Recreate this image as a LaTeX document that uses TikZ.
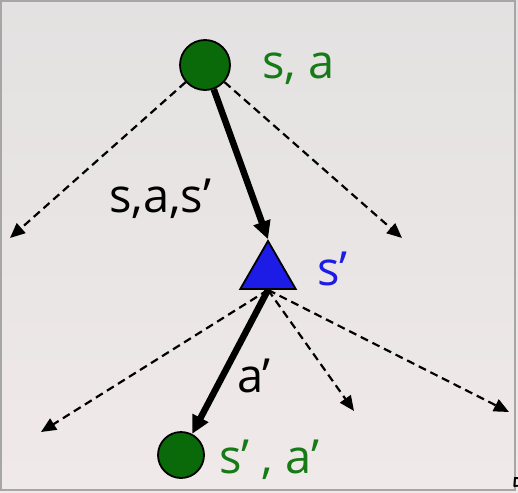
\documentclass[tikz,border=0pt]{standalone}
\usepackage{fontspec}
\setmainfont{Open Sans}
\usepackage{xcolor}
\usepackage{tikz}
\usetikzlibrary{arrows.meta,
                calc,
                positioning,
                shapes.geometric}

\definecolor{stgreen}{RGB}{10,106,10}
\definecolor{lblgreen}{RGB}{22,122,22}
\definecolor{stblue}{RGB}{28,28,230}
\definecolor{bgpink}{RGB}{240,233,233}
\definecolor{bggray}{RGB}{227,225,225}

\tikzset{
  qnode/.style={circle, draw=black, line width=1.8pt, fill=stgreen, inner sep=0pt},
  vnode/.style={regular polygon, regular polygon sides=3, draw=black,
                line width=1.8pt, fill=stblue, inner sep=0pt, minimum size=64pt},
  taken/.style={line width=6.5pt, -{Triangle[length=18pt,width=17pt]}},
  other/.style={dash pattern=on 8pt off 5pt, line width=2.2pt,
                -{Triangle[length=15pt,width=13pt]}},
  lbl/.style={anchor=base west, inner sep=0pt, font=\fontsize{47}{56}\selectfont}
}

\begin{document}
\begin{tikzpicture}[x=1pt,y=-1pt]
\useasboundingbox (0,0) rectangle (518,492);
\shade[top color=bggray, bottom color=bgpink] (0,0) rectangle (518,492);
\draw[gray!70, line width=2pt] (1,1) rectangle (515,490);

% states and labels
\node[qnode, minimum size=50pt] (sa) at (205,65) {};
\node[vnode] (sp) at (268,273) {};
\node[qnode, minimum size=46pt] (spa) at (181,455) {};

\node[lbl, text=lblgreen] (salbl) at (262,79) {s, a};
\node[lbl] (sasplbl) at (109,212) {s,a,s’};
\node[lbl, text=stblue] (splbl) at (317,285) {s’};
\node[lbl] (aplbl) at (237,392) {a’};
\node[lbl, text=lblgreen] (spalbl) at (219,473) {s’ , a’};

% loose ends of the other branches
\foreach \n/\x/\y in {l1/10/238, r1/402/238, l2/41/432, m2/354/411, r2/509/412}
  \coordinate (\n) at (\x,\y);

\foreach \n in {l1,r1}
  \draw[other] (sa) -- (\n);
\foreach \n in {l2,m2,r2}
  \draw[other] (sp.side 2) -- (\n);

\draw[taken] (sa) -- (sp.corner 1);
\draw[taken] (sp.side 2) -- (spa);

\node[anchor=north west, inner sep=0pt, font=\fontsize{28}{32}\selectfont] (pg) at (511,477) {5};
\end{tikzpicture}
\end{document}
